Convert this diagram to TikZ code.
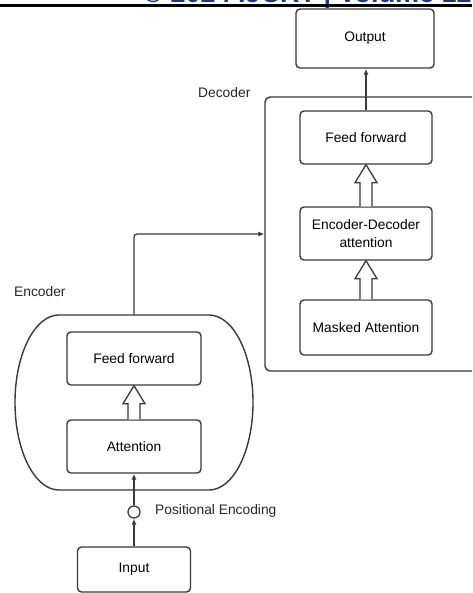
\documentclass[tikz,border=0pt]{standalone}
\usepackage{fontspec}
\setmainfont{Liberation Sans}
\usetikzlibrary{calc,arrows.meta}
\definecolor{ln}{HTML}{3A3A3A}
\definecolor{hdr}{HTML}{1F3A7A}
\newcommand\diafont{\fontsize{13.8}{18.5}\selectfont}
\newcommand\hollowup[2]{%
  \draw[hollow] ($(#1.north)+(-6,0)$) -- ($(#2.south)+(-6,18)$) -- ($(#2.south)+(-11,18)$)
    -- (#2.south) -- ($(#2.south)+(11,18)$) -- ($(#2.south)+(6,18)$) -- ($(#1.north)+(6,0)$);}
\tikzset{
  box/.style={draw=ln, line width=1.4pt, rounded corners=4pt, fill=white, inner sep=0pt,
    minimum width=132pt, minimum height=53pt, align=center, font=\diafont},
  frame/.style={draw=ln, line width=1.4pt, rounded corners=5pt, inner sep=0pt},
  conn/.style={draw=ln, line width=1.3pt, -{Latex[length=6pt,width=5pt]}},
  hollow/.style={draw=ln, line width=1.3pt, fill=white, line join=miter},
  lbl/.style={anchor=west, inner sep=0pt, font=\diafont, text=black!85}
}
\begin{document}
\begin{tikzpicture}[x=1pt,y=-1pt]
\clip (0,0) rectangle (472,593);
\fill[white] (0,0) rectangle (472,593);
% header
\node[anchor=base west, inner sep=0pt, text=hdr, font=\fontsize{27}{30}\selectfont\bfseries] (hd) at (143,2.5) {© 2024 IJCRT | Volume 12, Issue};
\fill[black] (0,4) rectangle (472,7);
% decoder
\node[frame, minimum width=225pt, minimum height=274pt] (dec) at (377.5,234) {};
\node[lbl] (declbl) at (198,93) {Decoder};
\node[box, minimum width=138pt, minimum height=59pt] (out) at (365,38.5) {Output};
\node[box] (dff) at (366,137.5) {Feed forward};
\node[box] (eda) at (366,233.5) {Encoder-Decoder\\attention};
\node[box, minimum height=55pt] (ma) at (366,327.5) {Masked Attention};
\draw[conn] (dff.north) -- (dff.north |- out.south);
\hollowup{eda}{dff}
\hollowup{ma}{eda}
% encoder
\node[lbl] (enclbl) at (14,292) {Encoder};
\draw[draw=ln, line width=1.4pt] (59,315) -- (209,315)
  arc[start angle=-90, end angle=90, x radius=44, y radius=87.5] -- (59,490)
  arc[start angle=90, end angle=270, x radius=44, y radius=87.5] -- cycle;
\coordinate (enctop) at (134,315);
\node[box, minimum width=134pt] (eff) at (134,358.5) {Feed forward};
\node[box, minimum width=134pt] (att) at (134,446.5) {Attention};
\hollowup{att}{eff}
\node[circle, draw=ln, line width=1.3pt, minimum size=12pt, inner sep=0pt, fill=white] (pe) at (134,512) {};
\node[lbl] (pelbl) at (155,511) {Positional Encoding};
\node[box, minimum width=113pt, minimum height=45pt] (inp) at (134,569.5) {Input};
\draw[conn] (inp.north) -- (pe.south);
\draw[conn] (pe.north) -- (att.south);
\draw[conn, rounded corners=3pt] (enctop) |- (dec.west);
\end{tikzpicture}
\end{document}
